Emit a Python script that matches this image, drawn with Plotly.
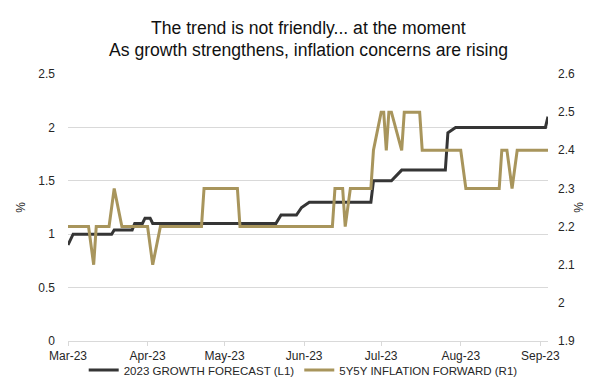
import plotly.graph_objects as go

growth_dates = ["2023-03-01", "2023-03-03", "2023-03-18", "2023-03-19", "2023-03-26", "2023-03-27",
                "2023-03-30", "2023-03-31", "2023-04-02", "2023-04-03", "2023-05-21", "2023-05-23",
                "2023-05-29", "2023-05-31", "2023-06-03", "2023-06-27", "2023-06-28", "2023-07-05",
                "2023-07-09", "2023-07-26", "2023-07-27", "2023-07-30", "2023-09-03", "2023-09-04"]
growth_values = [0.90, 1.00, 1.00, 1.04, 1.04, 1.10,
                 1.10, 1.15, 1.15, 1.10, 1.10, 1.18,
                 1.18, 1.25, 1.30, 1.30, 1.50, 1.50,
                 1.60, 1.60, 1.95, 2.00, 2.00, 2.10]

infl_dates = ["2023-03-01", "2023-03-09", "2023-03-11", "2023-03-12", "2023-03-17", "2023-03-19",
              "2023-03-22", "2023-04-01", "2023-04-03", "2023-04-06", "2023-04-22", "2023-04-23",
              "2023-05-06", "2023-05-07", "2023-06-12", "2023-06-13", "2023-06-16", "2023-06-17",
              "2023-06-19", "2023-06-27", "2023-06-28", "2023-07-01", "2023-07-02", "2023-07-03",
              "2023-07-04", "2023-07-05", "2023-07-09", "2023-07-10", "2023-07-16", "2023-07-17",
              "2023-08-01", "2023-08-03", "2023-08-16", "2023-08-17", "2023-08-19", "2023-08-21",
              "2023-08-23", "2023-09-04"]
infl_values = [2.2, 2.2, 2.1, 2.2, 2.2, 2.3,
               2.2, 2.2, 2.1, 2.2, 2.2, 2.3,
               2.3, 2.2, 2.2, 2.3, 2.3, 2.2,
               2.3, 2.3, 2.4, 2.5, 2.5, 2.4,
               2.5, 2.5, 2.4, 2.5, 2.5, 2.4,
               2.4, 2.3, 2.3, 2.4, 2.4, 2.3,
               2.4, 2.4]

left_ticks = [0, 0.5, 1, 1.5, 2, 2.5]
left_labels = ["0", "0.5", "1", "1.5", "2", "2.5"]
right_ticks = [1.9, 2.0, 2.1, 2.2, 2.3, 2.4, 2.5, 2.6]
right_labels = ["1.9", "2", "2.1", "2.2", "2.3", "2.4", "2.5", "2.6"]
month_ticks = ["2023-03-01", "2023-04-01", "2023-05-01", "2023-06-01",
               "2023-07-01", "2023-08-01", "2023-09-01"]

title_lines = ["The trend is not friendly... at the moment",
               "As growth strengthens, inflation concerns are rising"]

FONT = "Liberation Sans, Arial, sans-serif"
BLACK = "#353535"
GOLD = "#a8955c"
GRID = "#d9d9d9"
TXT = "#262626"

T, B = 66, 56
PH = 389 - T - B

fig = go.Figure()
fig.add_trace(go.Scatter(x=growth_dates, y=growth_values, mode="lines",
                         name="2023 GROWTH FORECAST (L1)",
                         line=dict(color=BLACK, width=3)))
fig.add_trace(go.Scatter(x=infl_dates, y=infl_values, mode="lines",
                         name="5Y5Y INFLATION FORWARD (R1)", yaxis="y2",
                         line=dict(color=GOLD, width=3)))

fig.update_layout(
    width=600, height=389,
    margin=dict(l=60, r=60, t=T, b=B, autoexpand=False),
    paper_bgcolor="white", plot_bgcolor="white",
    font=dict(family=FONT, size=12, color=TXT),
    showlegend=True,
    legend=dict(orientation="h", x=0.49, xanchor="center", yref="container",
                y=27 / 389, yanchor="middle", itemwidth=30,
                bgcolor="rgba(0,0,0,0)",
                font=dict(size=11.5, color=TXT), traceorder="normal"),
    xaxis=dict(type="date", range=["2023-03-01", "2023-09-04"],
               tickvals=month_ticks, tickformat="%b-%y",
               showgrid=False, showline=True, linecolor=GRID,
               linewidth=1, ticks="outside", ticklen=4, tickcolor=GRID,
               tickfont=dict(size=12, color=TXT), zeroline=False),
    yaxis=dict(range=[0, 2.5], tickvals=left_ticks, ticktext=left_labels,
               showgrid=True, gridcolor=GRID, gridwidth=1, zeroline=False,
               ticks="", ticklabelstandoff=12,
               title=dict(text="%", font=dict(size=12), standoff=10),
               tickfont=dict(size=12, color=TXT)),
    yaxis2=dict(range=[1.9, 2.6], tickvals=right_ticks, ticktext=right_labels,
                overlaying="y", side="right", showgrid=False, zeroline=False,
                ticks="", ticklabelstandoff=9,
                title=dict(text="%", font=dict(size=12), standoff=0),
                tickfont=dict(size=12, color=TXT)),
    annotations=[
        dict(text=title_lines[0], x=0.5, y=1 + (T - 20) / PH, xref="paper", yref="paper",
             yanchor="middle", showarrow=False,
             font=dict(size=17.6, color="#111111", family=FONT)),
        dict(text=title_lines[1], x=0.5, y=1 + (T - 42) / PH, xref="paper", yref="paper",
             yanchor="middle", showarrow=False,
             font=dict(size=17.6, color="#111111", family=FONT)),
    ],
)

fig.write_html("out.html")
